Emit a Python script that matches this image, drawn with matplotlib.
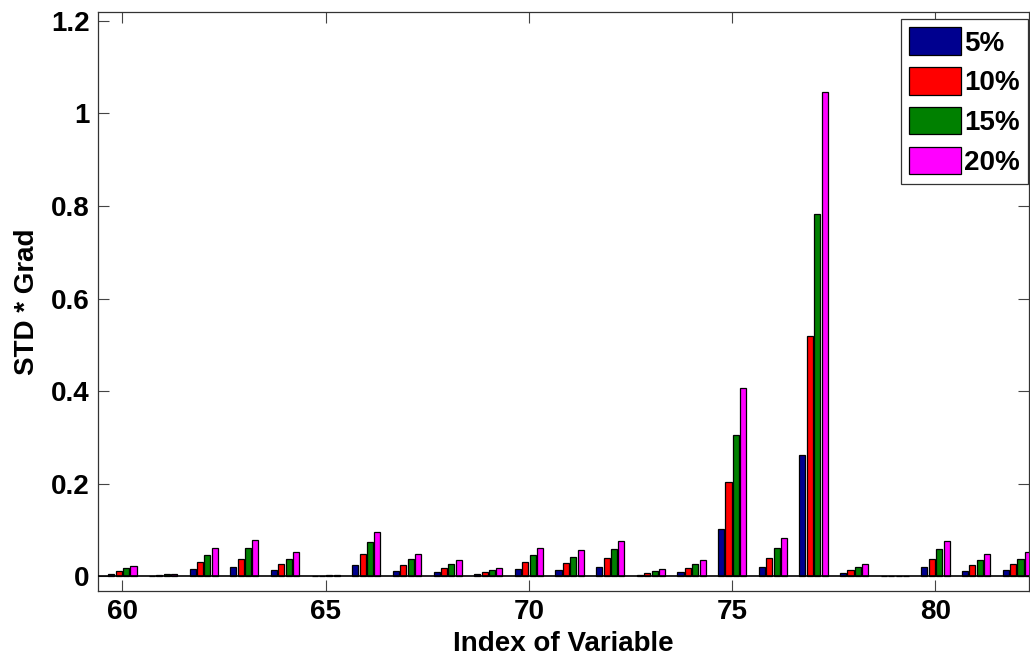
import numpy as np
import matplotlib
matplotlib.use('Agg')
from matplotlib import pyplot as plt

# index of variable (x categories)
index = list(range(60, 83))

# STD * Grad for each noise level
s5 = [0.004, 0.001, 0.016, 0.019, 0.014, 0.0005, 0.024, 0.011, 0.009, 0.004, 0.015, 0.014,
      0.019, 0.002, 0.009, 0.102, 0.020, 0.261, 0.007, 0.0, 0.020, 0.012, 0.014]
s10 = [0.011, 0.002, 0.030, 0.038, 0.026, 0.001, 0.047, 0.024, 0.017, 0.009, 0.030, 0.028,
       0.039, 0.006, 0.017, 0.203, 0.040, 0.520, 0.013, 0.0, 0.038, 0.024, 0.026]
s15 = [0.017, 0.004, 0.045, 0.060, 0.038, 0.002, 0.073, 0.037, 0.026, 0.014, 0.045, 0.041,
       0.058, 0.011, 0.026, 0.305, 0.061, 0.783, 0.020, 0.0, 0.058, 0.035, 0.038]
s20 = [0.023, 0.004, 0.060, 0.079, 0.052, 0.002, 0.096, 0.047, 0.034, 0.017, 0.060, 0.056,
       0.075, 0.015, 0.036, 0.406, 0.083, 1.046, 0.026, 0.0, 0.077, 0.048, 0.052]

labels = ['5%', '10%', '15%', '20%']
colors = ['#00008F', '#FF0000', '#008000', '#FF00FF']

xticks = [60, 65, 70, 75, 80]
yticks = [0, 0.2, 0.4, 0.6, 0.8, 1.0, 1.2]
ytick_labels = ['0', '0.2', '0.4', '0.6', '0.8', '1', '1.2']

plt.rcParams['font.family'] = ['Liberation Sans', 'DejaVu Sans']
plt.rcParams['font.weight'] = 'bold'

fig = plt.figure(figsize=(10.30, 6.62), dpi=100)
ax = fig.add_axes([98 / 1030, 1 - 591 / 662, (1029 - 98) / 1030, (591 - 11.7) / 662])

series = [s5, s10, s15, s20]
n = len(series)
group_w = min(0.8, n / (n + 1.5))
slot = group_w / n
x = np.array(index, dtype=float)
for i, (vals, lab, col) in enumerate(zip(series, labels, colors)):
    offs = -group_w / 2 + (i + 0.5) * slot
    ax.bar(x + offs, vals, width=slot * 0.82, color=col, edgecolor='black',
           linewidth=0.9, label=lab, zorder=3)

# baseline at zero like MATLAB
ax.axhline(0, color='black', linewidth=1.2, zorder=4)

ax.set_xlim(59.4, 82.3)
ax.set_ylim(-0.032, 1.22)
ax.set_xticks(xticks)
ax.set_yticks(yticks)
ax.set_yticklabels(ytick_labels)
ax.tick_params(direction='in', length=8, width=0.8, top=True, right=True,
               labelsize=20, pad=6, color='#444444')
for lab in ax.get_xticklabels() + ax.get_yticklabels():
    lab.set_fontweight('bold')
for sp in ax.spines.values():
    sp.set_color('#333333')
    sp.set_linewidth(0.9)

ax.set_xlabel('Index of Variable', fontsize=20, fontweight='bold', labelpad=4)
ax.set_ylabel('STD * Grad', fontsize=20, fontweight='bold', labelpad=8)

leg = ax.legend(loc='upper right', bbox_to_anchor=(1028 / 1030, 1 - 19 / 662),
                bbox_transform=fig.transFigure, borderaxespad=0,
                prop={'size': 20, 'weight': 'bold'}, fancybox=False,
                handlelength=1.85, handleheight=1.15, handletextpad=0.12,
                labelspacing=0.38, borderpad=0.3, framealpha=1)
leg.get_frame().set_edgecolor('#333333')
leg.get_frame().set_linewidth(0.9)

fig.savefig('out.png', dpi=100)
